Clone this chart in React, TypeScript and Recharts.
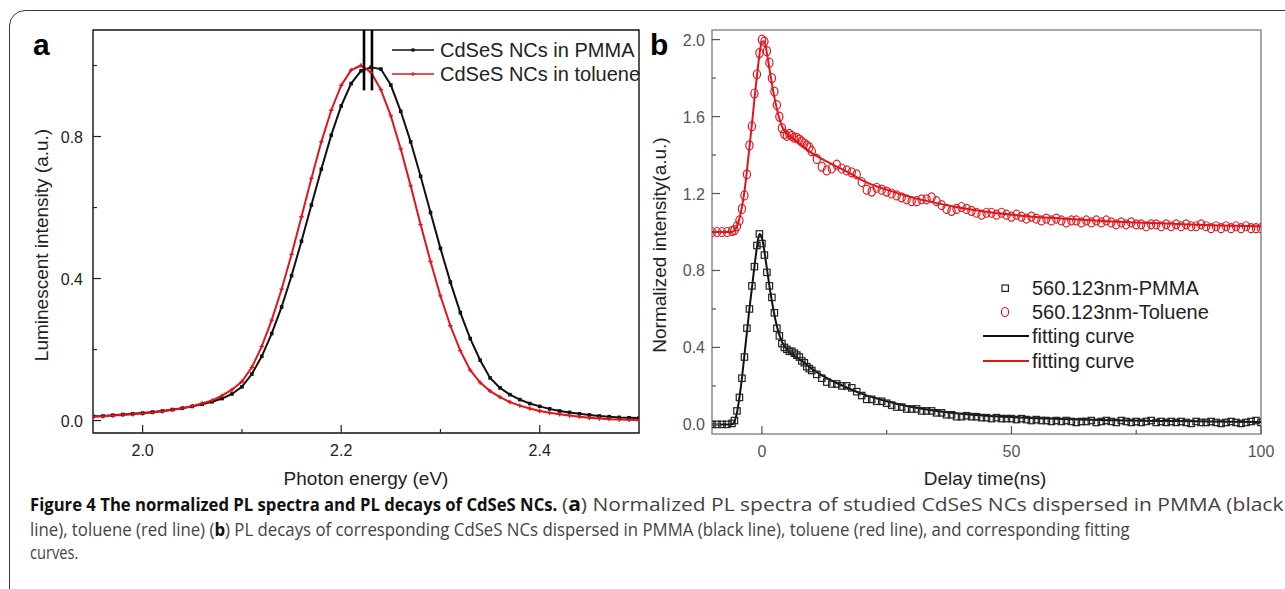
import { useLayoutEffect, useRef, useState } from 'react';
import { ComposedChart, Line, Scatter, XAxis, YAxis, ReferenceArea, ReferenceLine } from 'recharts';

// panel a: PL spectra
const energy = [1.95, 1.96, 1.97, 1.98, 1.99, 2.0, 2.01, 2.02, 2.03, 2.04, 2.05, 2.06, 2.07, 2.08, 2.09, 2.1, 2.11, 2.12, 2.13, 2.14, 2.15, 2.16, 2.17, 2.18, 2.19, 2.2, 2.21, 2.22, 2.23, 2.24, 2.25, 2.26, 2.27, 2.28, 2.29, 2.3, 2.31, 2.32, 2.33, 2.34, 2.35, 2.36, 2.37, 2.38, 2.39, 2.4, 2.41, 2.42, 2.43, 2.44, 2.45, 2.46, 2.47, 2.48, 2.49, 2.5];
const pmmaPL = [0.012, 0.013, 0.015, 0.017, 0.019, 0.021, 0.024, 0.027, 0.031, 0.035, 0.04, 0.046, 0.053, 0.062, 0.075, 0.095, 0.131, 0.181, 0.245, 0.32, 0.408, 0.505, 0.607, 0.708, 0.804, 0.886, 0.949, 0.985, 0.995, 0.99, 0.945, 0.871, 0.785, 0.688, 0.586, 0.485, 0.39, 0.304, 0.231, 0.17, 0.12, 0.092, 0.073, 0.059, 0.048, 0.04, 0.033, 0.027, 0.023, 0.019, 0.016, 0.013, 0.011, 0.009, 0.008, 0.007];
const toluenePL = [0.011, 0.012, 0.014, 0.016, 0.018, 0.02, 0.023, 0.026, 0.03, 0.035, 0.041, 0.048, 0.057, 0.07, 0.087, 0.11, 0.15, 0.209, 0.283, 0.37, 0.468, 0.574, 0.682, 0.785, 0.874, 0.944, 0.987, 1.0, 0.981, 0.932, 0.858, 0.765, 0.661, 0.552, 0.448, 0.351, 0.267, 0.197, 0.142, 0.107, 0.083, 0.066, 0.052, 0.042, 0.034, 0.027, 0.022, 0.018, 0.014, 0.011, 0.008, 0.006, 0.004, 0.003, 0.002, 0.001];
const peakMarks = [2.223, 2.231];
const peakMarkBottom = 0.93;

// panel b: PL decays
const decayT = [-10, -9, -8, -7, -6, -5.5, -5, -4.5, -4, -3.5, -3, -2.5, -2, -1.5, -1, -0.5, 0, 0.5, 1, 1.5, 2, 2.5, 3, 3.5, 4, 4.5, 5, 5.5, 6, 6.5, 7, 7.5, 8, 8.5, 9, 9.5, 10,
  11, 12, 13, 14, 15, 16, 17, 18, 19, 20, 21, 22, 23, 24, 25, 26, 27, 28, 29, 30, 31, 32, 33, 34, 35, 36, 37, 38, 39, 40,
  41, 42, 43, 44, 45, 46, 47, 48, 49, 50, 51, 52, 53, 54, 55, 56, 57, 58, 59, 60, 61, 62, 63, 64, 65, 66, 67, 68, 69, 70,
  71, 72, 73, 74, 75, 76, 77, 78, 79, 80, 81, 82, 83, 84, 85, 86, 87, 88, 89, 90, 91, 92, 93, 94, 95, 96, 97, 98, 99, 100];
const pmmaDecay = [0, 0, 0, 0, 0.005, 0.02, 0.07, 0.14, 0.24, 0.35, 0.5, 0.6, 0.72, 0.82, 0.93, 0.99, 0.94, 0.88, 0.79, 0.72, 0.66, 0.58, 0.5, 0.46, 0.42, 0.4, 0.39, 0.38, 0.38, 0.37, 0.36, 0.35, 0.33, 0.32, 0.3, 0.29, 0.28,
  0.26, 0.24, 0.22, 0.21, 0.21, 0.2, 0.2, 0.19, 0.17, 0.15, 0.13, 0.13, 0.12, 0.12, 0.11, 0.1, 0.09, 0.09, 0.08, 0.08, 0.08, 0.07, 0.07, 0.07, 0.06, 0.06, 0.05, 0.05, 0.04, 0.04,
  0.045, 0.04, 0.04, 0.035, 0.035, 0.03, 0.035, 0.03, 0.03, 0.03, 0.025, 0.03, 0.025, 0.02, 0.025, 0.02, 0.02, 0.015, 0.02, 0.015, 0.02, 0.015, 0.01, 0.015, 0.015, 0.02, 0.01, 0.015, 0.02, 0.015,
  0.01, 0.02, 0.015, 0.01, 0.015, 0.01, 0.015, 0.02, 0.01, 0.015, 0.01, 0.015, 0.01, 0.015, 0.01, 0.005, 0.015, 0.01, 0.01, 0.015, 0.01, 0.005, 0.01, 0.015, 0.01, 0.005, 0.01, 0.015, 0.02, 0.01];
const tolueneDecay = [1.0, 1.0, 1.0, 1.0, 1.005, 1.01, 1.03, 1.06, 1.12, 1.19, 1.3, 1.45, 1.55, 1.72, 1.82, 1.93, 2.0, 1.99, 1.94, 1.88, 1.8, 1.73, 1.66, 1.6, 1.54, 1.51, 1.5, 1.51, 1.5, 1.49, 1.49, 1.48, 1.47, 1.46, 1.45, 1.44, 1.42,
  1.38, 1.34, 1.32, 1.33, 1.35, 1.33, 1.32, 1.31, 1.3, 1.26, 1.22, 1.21, 1.23, 1.22, 1.21, 1.2, 1.19, 1.18, 1.17, 1.16, 1.16, 1.17, 1.17, 1.18, 1.16, 1.14, 1.12, 1.11, 1.12, 1.13,
  1.12, 1.11, 1.1, 1.09, 1.1, 1.1, 1.09, 1.1, 1.09, 1.08, 1.09, 1.08, 1.07, 1.08, 1.07, 1.06, 1.07, 1.06, 1.07, 1.06, 1.05, 1.06, 1.06, 1.05, 1.06, 1.05, 1.06, 1.05, 1.06, 1.05,
  1.04, 1.05, 1.04, 1.05, 1.04, 1.04, 1.03, 1.04, 1.04, 1.03, 1.04, 1.03, 1.04, 1.03, 1.04, 1.03, 1.03, 1.04, 1.03, 1.02, 1.03, 1.02, 1.03, 1.02, 1.03, 1.02, 1.03, 1.02, 1.02, 1.02];
const fitT = [-10, -6, -5.5, -5, -4.5, -4, -3.5, -3, -2.5, -2, -1.5, -1, -0.5, 0, 0.5, 1, 1.5, 2, 2.5, 3, 3.5, 4, 5, 6, 8, 10, 12, 15, 18, 20, 25, 30, 35, 40, 45, 50, 60, 70, 80, 90, 100];
const pmmaFit = [0, 0, 0.015, 0.06, 0.14, 0.24, 0.36, 0.48, 0.6, 0.71, 0.82, 0.92, 0.99, 0.97, 0.9, 0.81, 0.72, 0.64, 0.57, 0.51, 0.465, 0.43, 0.39, 0.365, 0.33, 0.29, 0.255, 0.215, 0.18, 0.16, 0.12, 0.09, 0.07, 0.055, 0.045, 0.038, 0.028, 0.022, 0.018, 0.015, 0.013];
const tolueneFit = [1.0, 1.0, 1.01, 1.03, 1.07, 1.13, 1.21, 1.32, 1.44, 1.56, 1.69, 1.81, 1.92, 1.99, 1.99, 1.93, 1.85, 1.77, 1.7, 1.64, 1.59, 1.55, 1.51, 1.49, 1.45, 1.41, 1.38, 1.34, 1.3, 1.27, 1.22, 1.18, 1.15, 1.125, 1.105, 1.09, 1.07, 1.055, 1.045, 1.035, 1.03];

const RED = '#e3141b';
const FONT = 'Arial, "Liberation Sans", sans-serif';
const CAPTION_FONT = '"Open Sans", "Noto Sans", sans-serif';

const spectraPmma = energy.map((e, i) => ({ x: e, v: pmmaPL[i] }));
const spectraTol = energy.map((e, i) => ({ x: e, v: toluenePL[i] }));
const decayPmma = decayT.map((t, i) => ({ x: t, v: pmmaDecay[i] }));
const decayTol = decayT.map((t, i) => ({ x: t, v: tolueneDecay[i] }));
const fitPmma = fitT.map((t, i) => ({ x: t, v: pmmaFit[i] }));
const fitTol = fitT.map((t, i) => ({ x: t, v: tolueneFit[i] }));

const isIn = (list: number[], v: number) => list.some((m) => Math.abs(m - v) < 1e-6);

// ticks point inward, major ones carry a label
function XTick(props: any) {
  const { x, y, payload, major, color, fmt } = props;
  const big = isIn(major, payload.value);
  return (
    <g>
      <line x1={x} x2={x} y1={y} y2={y - (big ? 8 : 4)} stroke={color} strokeWidth={1.2} />
      {big && (
        <text x={x} y={y + 23} textAnchor="middle" fontSize={16} fontFamily={FONT} fill={color}>
          {fmt(payload.value)}
        </text>
      )}
    </g>
  );
}

function YTick(props: any) {
  const { x, y, payload, major, color, gap } = props;
  const big = isIn(major, payload.value);
  return (
    <g>
      <line x1={x} x2={x + (big ? 8 : 4)} y1={y} y2={y} stroke={color} strokeWidth={1.2} />
      {big && (
        <text x={x - gap} y={y + 6} textAnchor="end" fontSize={16} fontFamily={FONT} fill={color}>
          {payload.value.toFixed(1)}
        </text>
      )}
    </g>
  );
}

const blackDot = (p: any) => <rect key={'b' + p.index} x={p.cx - 1.8} y={p.cy - 1.8} width={3.6} height={3.6} fill="#111" />;
const redDot = (p: any) => (
  <path key={'r' + p.index} d={`M${p.cx - 2.2},${p.cy}h4.4M${p.cx},${p.cy - 2.2}v4.4`} stroke={RED} strokeWidth={1.3} />
);
const squareShape = (p: any) => <rect x={p.cx - 3.2} y={p.cy - 3.2} width={6.4} height={6.4} fill="none" stroke="#222" strokeWidth={1.2} />;
const circleShape = (p: any) => <ellipse cx={p.cx} cy={p.cy} rx={3.6} ry={4.5} fill="none" stroke={RED} strokeWidth={1.2} />;

function PanelA() {
  return (
    <ComposedChart width={660} height={480} margin={{ top: 30, left: 53, right: 21, bottom: 17 }}>
      <XAxis dataKey="x" type="number" domain={[1.95, 2.5]} allowDataOverflow ticks={[2.0, 2.1, 2.2, 2.3, 2.4]} interval={0}
        height={30} tickSize={0} tickMargin={0} axisLine={false} tickLine={false}
        tick={<XTick major={[2.0, 2.2, 2.4]} color="#222" fmt={(v: number) => v.toFixed(1)} />} />
      <YAxis type="number" domain={[-0.035, 1.1]} allowDataOverflow ticks={[0, 0.2, 0.4, 0.6, 0.8, 1.0]} interval={0}
        width={40} tickSize={0} tickMargin={0} axisLine={false} tickLine={false}
        tick={<YTick major={[0, 0.4, 0.8]} color="#222" gap={10} />} />
      <ReferenceArea x1={1.95} x2={2.5} y1={-0.035} y2={1.1} fill="none" stroke="#111" strokeWidth={1.4} />
      <Line data={spectraPmma} dataKey="v" type="linear" stroke="#111" strokeWidth={2} dot={blackDot} isAnimationActive={false} />
      <Line data={spectraTol} dataKey="v" type="linear" stroke={RED} strokeWidth={2} dot={redDot} isAnimationActive={false} />
      {peakMarks.map((m) => (
        <ReferenceLine key={m} segment={[{ x: m, y: peakMarkBottom }, { x: m, y: 1.1 }]} stroke="#000" strokeWidth={2.6} />
      ))}
    </ComposedChart>
  );
}

function PanelB() {
  return (
    <ComposedChart width={630} height={480} margin={{ top: 30, left: 22, right: 19, bottom: 16 }}>
      <XAxis dataKey="x" type="number" domain={[-10, 100]} allowDataOverflow ticks={[0, 25, 50, 75, 100]} interval={0}
        height={30} tickSize={0} tickMargin={0} axisLine={false} tickLine={false}
        tick={<XTick major={[0, 50, 100]} color="#555" fmt={(v: number) => String(v)} />} />
      <YAxis type="number" domain={[-0.05, 2.05]} allowDataOverflow ticks={[0, 0.2, 0.4, 0.6, 0.8, 1.0, 1.2, 1.4, 1.6, 1.8, 2.0]} interval={0}
        width={40} tickSize={0} tickMargin={0} axisLine={false} tickLine={false}
        tick={<YTick major={[0, 0.4, 0.8, 1.2, 1.6, 2.0]} color="#555" gap={7} />} />
      <ReferenceArea x1={-10} x2={100} y1={-0.05} y2={2.05} fill="none" stroke="#8a8a8a" strokeWidth={1.5} />
      <Scatter data={decayPmma} dataKey="v" shape={squareShape} isAnimationActive={false} />
      <Scatter data={decayTol} dataKey="v" shape={circleShape} isAnimationActive={false} />
      <Line data={fitPmma} dataKey="v" type="monotone" stroke="#111" strokeWidth={2} dot={false} isAnimationActive={false} />
      <Line data={fitTol} dataKey="v" type="monotone" stroke={RED} strokeWidth={2} dot={false} isAnimationActive={false} />
    </ComposedChart>
  );
}

// caption text is a condensed face in the figure: squeeze each run to its measured width
function Fit({ x, top, w, size = 18, bold, children }: any) {
  const ref = useRef<HTMLDivElement>(null);
  const [k, setK] = useState(1);
  useLayoutEffect(() => {
    if (ref.current) setK(w / ref.current.offsetWidth);
  }, [w]);
  return (
    <div ref={ref} style={{
      position: 'absolute', left: x, top, whiteSpace: 'nowrap', transform: `scaleX(${k})`, transformOrigin: '0 0',
      fontFamily: CAPTION_FONT, fontSize: size, lineHeight: '18px', fontWeight: bold ? 700 : 400, color: bold ? '#111' : '#444',
    }}>
      {children}
    </div>
  );
}

export default function App() {
  const txt = { fontFamily: FONT, fill: '#222' };
  const b = { fontWeight: 700, color: '#111' };
  return (
    <div style={{ position: 'fixed', left: 0, top: 0, width: 1285, height: 589, overflow: 'hidden', background: '#fff' }}>
      <div style={{ position: 'absolute', left: 9, top: 10, width: 1400, height: 700, border: '1.5px solid #3a3a3a', borderRadius: 16, boxSizing: 'border-box' }} />
      <div style={{ position: 'absolute', left: 0, top: 0 }}><PanelA /></div>
      <div style={{ position: 'absolute', left: 650, top: 0 }}><PanelB /></div>
      <svg style={{ position: 'absolute', left: 0, top: 0 }} width={1285} height={589}>
        <text x={33} y={55} fontSize={30} fontWeight="bold" {...txt} fill="#000">a</text>
        <text x={650} y={55} fontSize={30} fontWeight="bold" {...txt} fill="#000">b</text>

        <text x={41} y={245} fontSize={19} textAnchor="middle" dominantBaseline="central" transform="rotate(-90 41 245)" {...txt}>Luminescent intensity (a.u.)</text>
        <text x={366} y={478} fontSize={19} textAnchor="middle" dominantBaseline="central" {...txt}>Photon energy (eV)</text>
        <text x={659} y={245} fontSize={19} textAnchor="middle" dominantBaseline="central" transform="rotate(-90 659 245)" {...txt}>Normalized intensity(a.u.)</text>
        <text x={985} y={478} fontSize={19} textAnchor="middle" dominantBaseline="central" {...txt}>Delay time(ns)</text>

        <line x1={392} x2={434} y1={50} y2={50} stroke="#111" strokeWidth={1.4} />
        <rect x={411.4} y={48.4} width={3.2} height={3.2} fill="#111" />
        <text x={440} y={50} fontSize={20} dominantBaseline="central" {...txt}>CdSeS NCs in PMMA</text>
        <line x1={392} x2={434} y1={74} y2={74} stroke={RED} strokeWidth={1.4} />
        <path d="M411,74h4M413,72v4" stroke={RED} strokeWidth={1.2} />
        <text x={440} y={74} fontSize={20} dominantBaseline="central" {...txt}>CdSeS NCs in toluene</text>

        <rect x={1002} y={285} width={6.4} height={6.4} fill="none" stroke="#222" strokeWidth={1.2} />
        <text x={1032} y={288} fontSize={20} dominantBaseline="central" {...txt}>560.123nm-PMMA</text>
        <ellipse cx={1005} cy={312} rx={3.6} ry={4.5} fill="none" stroke={RED} strokeWidth={1.2} />
        <text x={1032} y={312} fontSize={20} dominantBaseline="central" {...txt}>560.123nm-Toluene</text>
        <line x1={983} x2={1029} y1={336} y2={336} stroke="#111" strokeWidth={2} />
        <text x={1032} y={336} fontSize={20} dominantBaseline="central" {...txt}>fitting curve</text>
        <line x1={983} x2={1029} y1={361} y2={361} stroke={RED} strokeWidth={2} />
        <text x={1032} y={361} fontSize={20} dominantBaseline="central" {...txt}>fitting curve</text>
      </svg>

      <Fit x={30} top={495} w={527} bold>Figure 4 The normalized PL spectra and PL decays of CdSeS NCs.</Fit>
      <Fit x={562} top={495} w={721} size={19}>(<span style={b}>a</span>) Normalized PL spectra of studied CdSeS NCs dispersed in PMMA (black</Fit>
      <Fit x={30} top={520} w={1100}>line), toluene (red line) (<span style={b}>b</span>) PL decays of corresponding CdSeS NCs dispersed in PMMA (black line), toluene (red line), and corresponding fitting</Fit>
      <Fit x={30} top={543} w={48}>curves.</Fit>
    </div>
  );
}
